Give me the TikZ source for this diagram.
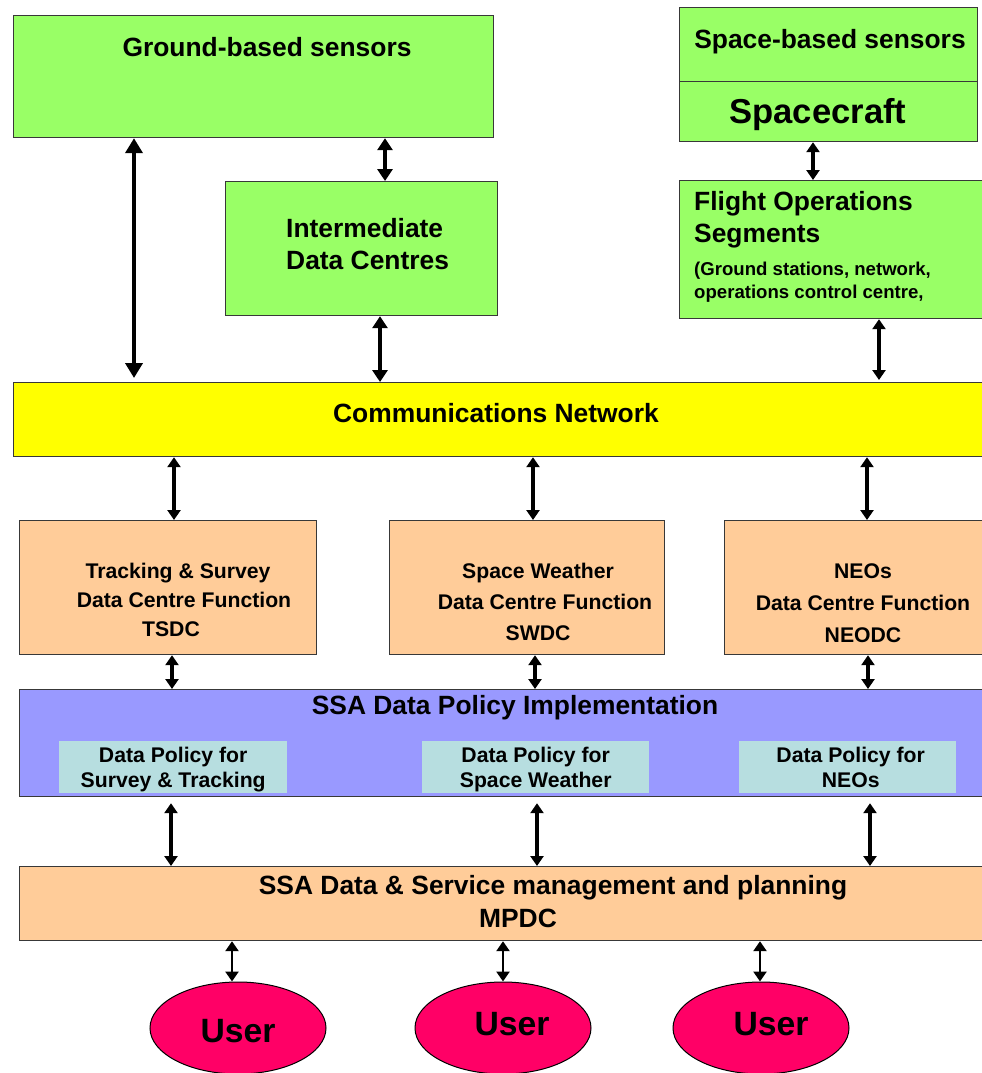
\documentclass[tikz,border=0pt]{standalone}
\usepackage{fontspec}
\setmainfont{Liberation Sans}
\usetikzlibrary{arrows.meta,shapes.geometric}
\definecolor{grn}{HTML}{99FF66}
\definecolor{yel}{HTML}{FFFF00}
\definecolor{org}{HTML}{FFCC99}
\definecolor{pur}{HTML}{9999FF}
\definecolor{lbl}{HTML}{B7DEE0}
\definecolor{usr}{HTML}{FF0066}
\definecolor{edgec}{HTML}{383838}
\begin{document}
\begin{tikzpicture}[x=1pt,y=-1pt,
  box/.style={draw=edgec, line width=1.2pt, inner sep=0pt, anchor=north west},
  sub/.style={fill=lbl, inner sep=0pt, anchor=north west},
  big/.style={font=\fontsize{26.4}{32}\selectfont\bfseries, inner sep=0pt},
  med/.style={font=\fontsize{21.2}{29}\selectfont\bfseries, inner sep=0pt, align=center},
  sml/.style={font=\fontsize{18.6}{23}\selectfont\bfseries, inner sep=0pt, align=left},
  usernode/.style={ellipse, draw=black, line width=1pt, fill=usr, minimum width=176pt, minimum height=92pt, inner sep=0pt},
  arrA/.style={line width=4.8pt, {Triangle[width=17pt,length=15pt]}-{Triangle[width=17pt,length=15pt]}},
  arrB/.style={line width=4.2pt, {Triangle[width=15pt,length=12pt]}-{Triangle[width=15pt,length=12pt]}},
  arrC/.style={line width=3.4pt, {Triangle[width=13pt,length=10pt]}-{Triangle[width=13pt,length=10pt]}}]
\useasboundingbox (0,0) rectangle (982,1073);
\clip (0,0) rectangle (982,1073);
\fill[white] (0,0) rectangle (982,1073);

% top green boxes
\node[box, fill=grn, minimum width=480pt, minimum height=122pt] (gbs) at (13,15) {};
\node[big] (gbst) at (267,47) {Ground-based sensors};
\node[box, fill=grn, minimum width=298pt, minimum height=74pt] (sbs) at (679,7) {};
\node[big] (sbst) at (830,42) {Space-based sensors};
\node[box, fill=grn, minimum width=298pt, minimum height=60pt] (sc) at (679,81) {};
\node[font=\fontsize{34.6}{40}\selectfont\bfseries, inner sep=0pt] (sct) at (818,115) {Spacecraft};
\node[box, fill=grn, minimum width=272pt, minimum height=134pt] (idc) at (225,181) {};
\node[big, align=left, anchor=west] (idct) at (286,244) {Intermediate\\Data Centres};
\node[box, fill=grn, minimum width=330pt, minimum height=138pt] (fos) at (679,180) {};
\node[big, align=left, anchor=west] (fost) at (694,220) {Flight Operations\\Segments};
\node[sml, anchor=west] (fosd) at (694,282) {(Ground stations, network,\\operations control centre,};

% communications
\node[box, fill=yel, minimum width=1000pt, minimum height=74pt] (comm) at (13,382) {};
\node[big] (commt) at (496,413) {Communications Network};

% data centres
\node[box, fill=org, minimum width=297pt, minimum height=134pt] (tsdc) at (19,520) {};
\node[med] (tsdct) at (178,600) {Tracking \& Survey\\\hspace*{12pt}Data Centre Function\\\hspace*{-14pt}TSDC};
\node[box, fill=org, minimum width=275pt, minimum height=134pt] (swdc) at (389,520) {};
\node[med, font=\fontsize{21.2}{31}\selectfont\bfseries] (swdct) at (538,602) {Space Weather\\\hspace*{14pt}Data Centre Function\\SWDC};
\node[box, fill=org, minimum width=300pt, minimum height=134pt] (neo) at (724,520) {};
\node[med, font=\fontsize{21.2}{32}\selectfont\bfseries] (neot) at (863,603) {NEOs\\Data Centre Function\\NEODC};

% policy
\node[box, fill=pur, minimum width=1000pt, minimum height=107pt] (pol) at (19,689) {};
\node[big] (polt) at (515,708) {SSA Data Policy Implementation};
\node[sub, minimum width=228pt, minimum height=52pt] (p1) at (59,741) {};
\node[med, font=\fontsize{21.2}{25}\selectfont\bfseries] (p1t) at ([yshift=-2pt]p1.center) {Data Policy for\\Survey \& Tracking};
\node[sub, minimum width=227pt, minimum height=52pt] (p2) at (422,741) {};
\node[med, font=\fontsize{21.2}{25}\selectfont\bfseries] (p2t) at ([yshift=-2pt]p2.center) {Data Policy for\\Space Weather};
\node[sub, minimum width=217pt, minimum height=52pt] (p3) at (739,741) {};
\node[med, font=\fontsize{21.2}{25}\selectfont\bfseries] (p3t) at ([xshift=3pt]p3.center) {Data Policy for\\NEOs};

% MPDC
\node[box, fill=org, minimum width=1000pt, minimum height=74pt] (mpdc) at (19,866) {};
\node[big] (mpdct1) at (553,888) {SSA Data \& Service management and planning};
\node[big] (mpdct2) at (518,918) {MPDC};

% users
\node[usernode] (u1) at (238,1028) {};
\node[font=\fontsize{33.7}{40}\selectfont\bfseries, inner sep=0pt] (u1t) at (238,1031) {User};
\node[usernode] (u2) at (503,1028) {};
\node[font=\fontsize{33.7}{40}\selectfont\bfseries, inner sep=0pt] (u2t) at (512,1024) {User};
\node[usernode] (u3) at (761,1028) {};
\node[font=\fontsize{33.7}{40}\selectfont\bfseries, inner sep=0pt] (u3t) at (771,1024) {User};

% x positions
\coordinate (xa) at (134,0);
\coordinate (xb) at (385,0);
\coordinate (xc) at (380,0);
\coordinate (xd) at (813,0);
\coordinate (xe) at (879,0);
\coordinate (x1) at (174,0);
\coordinate (x2) at (533,0);
\coordinate (x3) at (867,0);
\coordinate (y1) at (172,0);
\coordinate (y2) at (535,0);
\coordinate (y3) at (868,0);
\coordinate (z1) at (171,0);
\coordinate (z2) at (537,0);
\coordinate (z3) at (870,0);
\coordinate (w1) at (232,0);
\coordinate (w2) at (503,0);
\coordinate (w3) at (760,0);

% connectors
\draw[arrA] (gbs.south -| xa) -- ([yshift=4pt]comm.north -| xa);
\draw[arrB] (gbs.south -| xb) -- (idc.north -| xb);
\draw[arrB] (idc.south -| xc) -- (comm.north -| xc);
\draw[arrC] (sc.south -| xd) -- (fos.north -| xd);
\draw[arrC] (fos.south -| xe) -- ([yshift=2pt]comm.north -| xe);
\draw[arrC] (comm.south -| x1) -- (tsdc.north -| x1);
\draw[arrC] (comm.south -| x2) -- (swdc.north -| x2);
\draw[arrC] (comm.south -| x3) -- (neo.north -| x3);
\draw[arrC] (tsdc.south -| y1) -- (pol.north -| y1);
\draw[arrC] (swdc.south -| y2) -- (pol.north -| y2);
\draw[arrC] (neo.south -| y3) -- (pol.north -| y3);
\draw[arrC] ([yshift=-6pt]pol.south -| z1) -- (mpdc.north -| z1);
\draw[arrC] ([yshift=-6pt]pol.south -| z2) -- (mpdc.north -| z2);
\draw[arrC] ([yshift=-6pt]pol.south -| z3) -- (mpdc.north -| z3);
\draw[arrC, line width=2.8pt] (mpdc.south -| w1) -- (u1.north -| w1);
\draw[arrC, line width=2.8pt] (mpdc.south -| w2) -- (u2.north -| w2);
\draw[arrC, line width=2.8pt] (mpdc.south -| w3) -- (u3.north -| w3);
\end{tikzpicture}
\end{document}
